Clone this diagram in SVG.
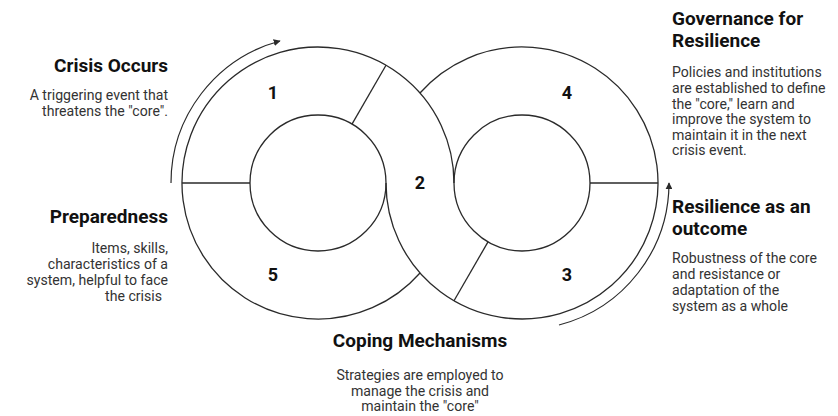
<svg xmlns="http://www.w3.org/2000/svg" width="838" height="416" viewBox="0 0 838 416">
<defs>
<style>
.ln{fill:none;stroke:#2a2a2a;stroke-width:1.3}
.ar{fill:none;stroke:#2a2a2a;stroke-width:1.2}
.num{font-family:Roboto,"Liberation Sans",sans-serif;font-weight:bold;font-size:18px;fill:#111;text-anchor:middle}
.ttl{font-family:Roboto,"Liberation Sans",sans-serif;font-weight:bold;font-size:19px;fill:#111}
.bd{font-family:Roboto,"Liberation Sans",sans-serif;font-size:14.1px;fill:#333}
</style>
<marker id="ah" viewBox="0 0 10 10" refX="9" refY="5" markerWidth="7" markerHeight="7" markerUnits="userSpaceOnUse" orient="auto">
<path d="M0,0 L10,5 L0,10 z" fill="#2a2a2a"/>
</marker>
</defs>
<rect width="838" height="416" fill="#fff"/>
<g id="connectors">
<path class="ar" d="M171,183 A147 147 0 0 1 280,41" marker-end="url(#ah)"/>
<path class="ar" d="M559,325 A147 147 0 0 0 669,183" marker-end="url(#ah)"/>
</g>
<g id="rings">
<path class="ln" d="M420,273 A136 136 0 1 1 454,183"/>
<path class="ln" d="M420,93 A136 136 0 1 1 386,183"/>
<circle class="ln" cx="318" cy="183" r="68"/>
<circle class="ln" cx="522" cy="183" r="68"/>
<line class="ln" x1="182" y1="183" x2="250" y2="183"/>
<line class="ln" x1="590" y1="183" x2="658" y2="183"/>
<line class="ln" x1="352" y1="124.1" x2="386" y2="65.2"/>
<line class="ln" x1="488" y1="241.9" x2="454" y2="300.8"/>
</g>
<g id="seg1"><text class="num" x="273" y="99">1</text></g>
<g id="seg2"><text class="num" x="420" y="189">2</text></g>
<g id="seg3"><text class="num" x="567" y="281">3</text></g>
<g id="seg4"><text class="num" x="567" y="99">4</text></g>
<g id="seg5"><text class="num" x="273" y="281">5</text></g>
<g id="crisis" text-anchor="end">
<text class="ttl" x="168" y="72">Crisis Occurs</text>
<text class="bd" x="168" y="100">A triggering event that</text>
<text class="bd" x="168" y="116">threatens the "core".</text>
</g>
<g id="preparedness" text-anchor="end">
<text class="ttl" x="168" y="223">Preparedness</text>
<text class="bd" x="168" y="253">Items, skills,</text>
<text class="bd" x="168" y="269">characteristics of a</text>
<text class="bd" x="168" y="285">system, helpful to face</text>
<text class="bd" x="162" y="301">the crisis</text>
</g>
<g id="governance">
<text class="ttl" x="672" y="25">Governance for</text>
<text class="ttl" x="672" y="47">Resilience</text>
<text class="bd" x="672" y="77">Policies and institutions</text>
<text class="bd" x="672" y="93">are established to define</text>
<text class="bd" x="672" y="109">the "core," learn and</text>
<text class="bd" x="672" y="124">improve the system to</text>
<text class="bd" x="672" y="140">maintain it in the next</text>
<text class="bd" x="672" y="155">crisis event.</text>
</g>
<g id="outcome">
<text class="ttl" x="672" y="213">Resilience as an</text>
<text class="ttl" x="672" y="235">outcome</text>
<text class="bd" x="672" y="263">Robustness of the core</text>
<text class="bd" x="672" y="279">and resistance or</text>
<text class="bd" x="672" y="295">adaptation of the</text>
<text class="bd" x="672" y="311">system as a whole</text>
</g>
<g id="coping" text-anchor="middle">
<text class="ttl" x="420" y="347">Coping Mechanisms</text>
<text class="bd" x="420" y="380">Strategies are employed to</text>
<text class="bd" x="420" y="396">manage the crisis and</text>
<text class="bd" x="420" y="411">maintain the "core"</text>
</g>
</svg>
